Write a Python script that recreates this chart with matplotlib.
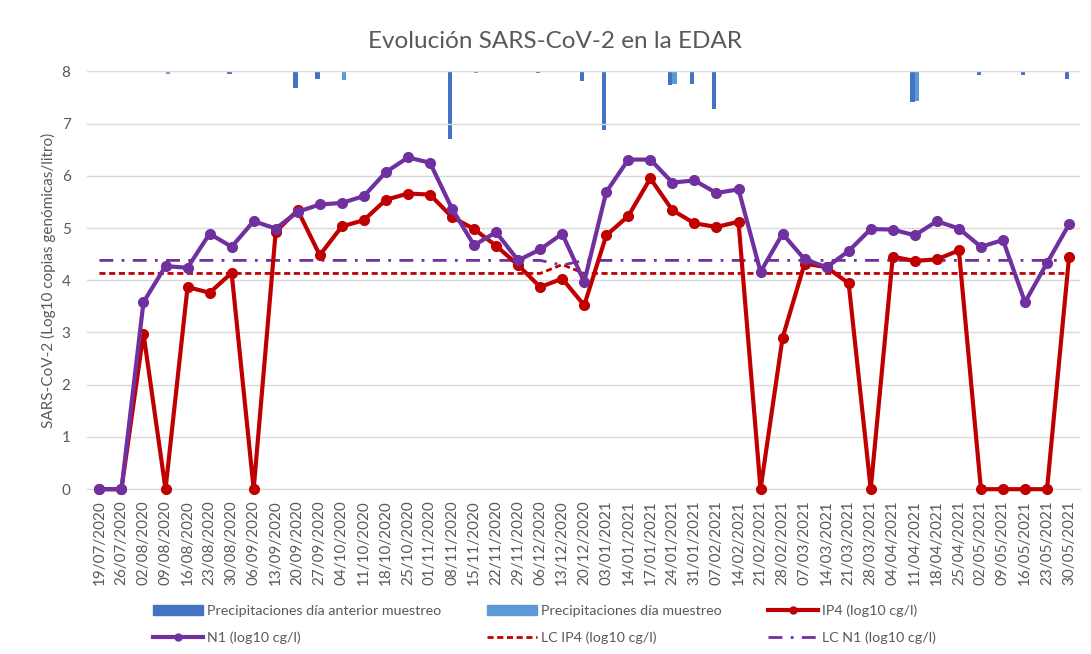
import numpy as np
import matplotlib
matplotlib.use('Agg')
import matplotlib.pyplot as plt
from matplotlib.lines import Line2D
from matplotlib.patches import Patch

plt.rcParams['font.family'] = ['Lato', 'DejaVu Sans']

# Fechas de muestreo (eje de categorias)
fechas = ['19/07/2020', '26/07/2020', '02/08/2020', '09/08/2020', '16/08/2020',
          '23/08/2020', '30/08/2020', '06/09/2020', '13/09/2020', '20/09/2020',
          '27/09/2020', '04/10/2020', '11/10/2020', '18/10/2020', '25/10/2020',
          '01/11/2020', '08/11/2020', '15/11/2020', '22/11/2020', '29/11/2020',
          '06/12/2020', '13/12/2020', '20/12/2020', '03/01/2021', '14/01/2021',
          '17/01/2021', '24/01/2021', '31/01/2021', '07/02/2021', '14/02/2021',
          '21/02/2021', '28/02/2021', '07/03/2021', '14/03/2021', '21/03/2021',
          '28/03/2021', '04/04/2021', '11/04/2021', '18/04/2021', '25/04/2021',
          '02/05/2021', '09/05/2021', '16/05/2021', '23/05/2021', '30/05/2021']

# IP4 (log10 cg/l)
ip4 = [0, 0, 2.98, 0, 3.87, 3.76, 4.14, 0, 4.93, 5.34,
       4.48, 5.03, 5.15, 5.54, 5.66, 5.64, 5.21, 4.98, 4.66, 4.29,
       3.87, 4.03, 3.52, 4.86, 5.23, 5.95, 5.34, 5.09, 5.02, 5.12,
       0, 2.90, 4.32, 4.25, 3.94, 0, 4.45, 4.37, 4.40, 4.57,
       0, 0, 0, 0, 4.45]

# N1 (log10 cg/l)
n1 = [0, 0, 3.58, 4.27, 4.24, 4.89, 4.64, 5.13, 4.99, 5.31,
      5.45, 5.48, 5.61, 6.07, 6.35, 6.25, 5.37, 4.67, 4.92, 4.38,
      4.59, 4.89, 3.97, 5.69, 6.31, 6.31, 5.87, 5.91, 5.67, 5.74,
      4.16, 4.89, 4.40, 4.25, 4.56, 4.98, 4.97, 4.86, 5.13, 4.99,
      4.64, 4.77, 3.58, 4.33, 5.07]

# Limites de cuantificacion
lc_ip4 = [4.13] * 45
lc_ip4[21] = 4.30
lc_n1 = [4.38] * 45
lc_n1[21] = 4.29

# Precipitaciones (mm), eje secundario invertido
precip_anterior = [0, 0, 0, 0, 0, 0, 0.3, 0, 0, 1.6,
                   0.7, 0, 0.1, 0, 0, 0, 6.5, 0, 0, 0,
                   0.2, 0.1, 0.9, 5.6, 0, 0, 1.3, 1.2, 3.6, 0,
                   0, 0, 0, 0, 0, 0, 0, 2.9, 0, 0,
                   0.4, 0, 0.4, 0, 0.7]
precip_muestreo = [0, 0, 0, 0.3, 0, 0, 0, 0, 0, 0,
                   0, 0.8, 0, 0.1, 0, 0, 0, 0.2, 0, 0,
                   0, 0, 0.1, 0, 0, 0, 1.2, 0, 0, 0,
                   0, 0, 0, 0, 0, 0, 0, 2.8, 0, 0.1,
                   0, 0, 0, 0, 0.1]

c_red = '#C00000'
c_purple = '#7030A0'
c_dark = '#4472C4'
c_light = '#5B9BD5'
c_text = '#595959'
c_grid = '#D9D9D9'

x = np.arange(len(fechas))

fig = plt.figure(figsize=(10.91, 6.54), dpi=100)
ax = fig.add_axes([0.080, 0.252, 0.910, 0.639])
ax2 = ax.twinx()

# barras de precipitacion colgando desde arriba
w = 0.2
ax2.bar(x - w / 2, precip_anterior, width=w, color=c_dark)
ax2.bar(x + w / 2, precip_muestreo, width=w, color=c_light)
ax2.set_ylim(40, 0)
ax2.axis('off')

ax.set_zorder(ax2.get_zorder() + 1)
ax.patch.set_visible(False)

ax.plot(x, lc_ip4, color=c_red, lw=2, ls=(0, (2.2, 1.3)), zorder=3)
ax.plot(x, lc_n1, color=c_purple, lw=2, ls=(0, (5, 3, 1, 3)), zorder=3)
ax.plot(x, ip4, color=c_red, lw=3, marker='o', ms=7, clip_on=False, zorder=4)
ax.plot(x, n1, color=c_purple, lw=3, marker='o', ms=7, clip_on=False, zorder=5)

ax.set_xlim(-0.55, 44.5)
ax.set_ylim(0, 8)
ax.set_yticks(range(0, 9))
ax.set_xticks(x)
ax.set_xticklabels(fechas, rotation=90, fontsize=11, color=c_text)
ax.tick_params(axis='y', labelsize=11, colors=c_text, length=0, pad=12)
ax.tick_params(axis='x', length=0, pad=8)
ax.grid(axis='y', color=c_grid, lw=1)
ax.set_axisbelow(True)
for s in ['top', 'right', 'left']:
    ax.spines[s].set_visible(False)
ax.spines['bottom'].set_color(c_grid)

ax.set_ylabel('SARS-CoV-2 (Log10 copias genómicas/litro)', fontsize=11,
              color=c_text, labelpad=4)
fig.suptitle('Evolución SARS-CoV-2 en la EDAR', x=0.509, y=0.936, va='center',
             fontsize=17.5, color=c_text)

# orden por columnas para que las filas coincidan con el original
handles = [
    Patch(color=c_dark),
    Line2D([], [], color=c_purple, lw=3, marker='o', ms=5),
    Patch(color=c_light),
    Line2D([], [], color=c_red, lw=2, ls=(0, (2.2, 1.3))),
    Line2D([], [], color=c_red, lw=3, marker='o', ms=5),
    Line2D([], [], color=c_purple, lw=2, ls=(0, (5, 3, 1, 3))),
]
labels = ['Precipitaciones día anterior muestreo', 'N1 (log10 cg/l)',
          'Precipitaciones día muestreo', 'LC IP4 (log10 cg/l)',
          'IP4 (log10 cg/l)', 'LC N1 (log10 cg/l)']
leg = fig.legend(handles, labels, ncol=3, loc='lower left',
                 bbox_to_anchor=(0.128, -0.005), frameon=False, fontsize=10.3,
                 handlelength=3.5, columnspacing=3.2, handletextpad=0.3,
                 labelspacing=1.05)
for t in leg.get_texts():
    t.set_color(c_text)

fig.savefig('out.png', dpi=100)
